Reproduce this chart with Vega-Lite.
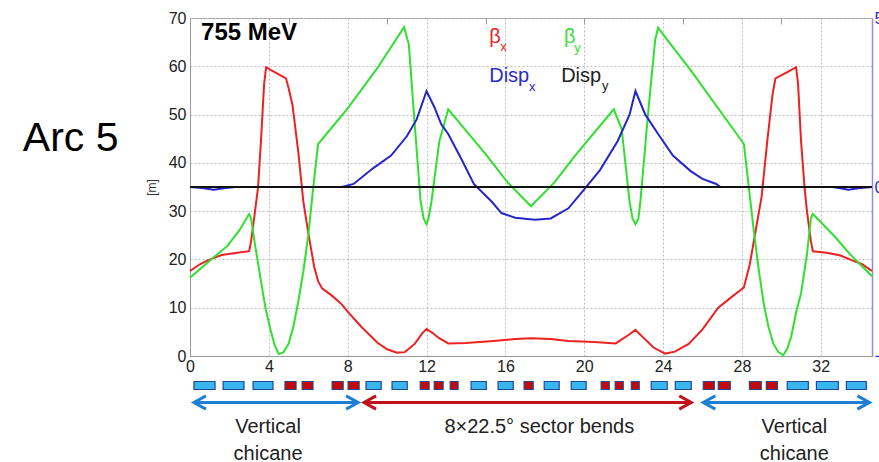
{
  "$schema": "https://vega.github.io/schema/vega-lite/v6.json",
  "background": "white",
  "padding": {"left": 22, "top": 8, "right": 0, "bottom": 0},
  "config": {
    "font": "Liberation Sans",
    "view": {"stroke": "#9a9a9a"}
  },
  "datasets": {
    "betax": [
      {"s": 0, "beta": 17.6}, {"s": 0.5, "beta": 19.0}, {"s": 0.9, "beta": 19.8}, {"s": 1.6, "beta": 20.9},
      {"s": 2.4, "beta": 21.4}, {"s": 3.0, "beta": 21.7}, {"s": 3.1, "beta": 23.8}, {"s": 3.3, "beta": 30},
      {"s": 3.45, "beta": 34.8}, {"s": 3.6, "beta": 44.5}, {"s": 3.76, "beta": 56.3}, {"s": 3.86, "beta": 59.8},
      {"s": 4.2, "beta": 59.0}, {"s": 4.87, "beta": 57.5}, {"s": 5.0, "beta": 55.5}, {"s": 5.2, "beta": 52},
      {"s": 5.5, "beta": 42}, {"s": 5.75, "beta": 32}, {"s": 6.0, "beta": 25.5}, {"s": 6.3, "beta": 18.5},
      {"s": 6.5, "beta": 15.5}, {"s": 6.7, "beta": 14.0}, {"s": 7.2, "beta": 12.5}, {"s": 7.7, "beta": 10.7},
      {"s": 8.0, "beta": 9.2}, {"s": 8.7, "beta": 6.0}, {"s": 9.5, "beta": 2.8}, {"s": 10.0, "beta": 1.4},
      {"s": 10.5, "beta": 0.7}, {"s": 10.9, "beta": 0.8}, {"s": 11.4, "beta": 2.5}, {"s": 11.8, "beta": 4.8},
      {"s": 12.0, "beta": 5.6}, {"s": 12.3, "beta": 4.8}, {"s": 12.6, "beta": 3.8}, {"s": 13.1, "beta": 2.6},
      {"s": 14.0, "beta": 2.7}, {"s": 15.4, "beta": 3.1}, {"s": 16.5, "beta": 3.5}, {"s": 17.3, "beta": 3.7},
      {"s": 18.3, "beta": 3.5}, {"s": 19.2, "beta": 3.1}, {"s": 20.5, "beta": 2.9}, {"s": 21.6, "beta": 2.6},
      {"s": 22.3, "beta": 4.5}, {"s": 22.6, "beta": 5.4}, {"s": 23.0, "beta": 3.8}, {"s": 23.5, "beta": 1.8},
      {"s": 24.1, "beta": 0.5}, {"s": 24.6, "beta": 0.9}, {"s": 25.3, "beta": 2.5}, {"s": 26.0, "beta": 5.5},
      {"s": 26.8, "beta": 10.0}, {"s": 27.5, "beta": 12.3}, {"s": 28.1, "beta": 14.2}, {"s": 28.4, "beta": 19},
      {"s": 28.7, "beta": 26}, {"s": 29.0, "beta": 33}, {"s": 29.3, "beta": 45}, {"s": 29.55, "beta": 54},
      {"s": 29.7, "beta": 57.5}, {"s": 30.4, "beta": 59.0}, {"s": 30.75, "beta": 59.8}, {"s": 30.85, "beta": 56.3},
      {"s": 31.0, "beta": 44.5}, {"s": 31.18, "beta": 34.8}, {"s": 31.3, "beta": 30}, {"s": 31.5, "beta": 23.8},
      {"s": 31.6, "beta": 21.7}, {"s": 32.3, "beta": 21.4}, {"s": 33.0, "beta": 20.8}, {"s": 33.6, "beta": 19.8},
      {"s": 34.1, "beta": 19.0}, {"s": 34.6, "beta": 17.6}
    ],
    "betay": [
      {"s": 0, "beta": 16.2}, {"s": 1.07, "beta": 20.0}, {"s": 1.9, "beta": 22.8}, {"s": 2.5, "beta": 26.0},
      {"s": 3.0, "beta": 29.4}, {"s": 3.1, "beta": 28.5}, {"s": 3.3, "beta": 23}, {"s": 3.6, "beta": 15.5},
      {"s": 3.85, "beta": 9.5}, {"s": 4.1, "beta": 5.2}, {"s": 4.3, "beta": 2.2}, {"s": 4.5, "beta": 0.4},
      {"s": 4.75, "beta": 0.8}, {"s": 5.0, "beta": 2.5}, {"s": 5.25, "beta": 6.2}, {"s": 5.5, "beta": 11.4},
      {"s": 5.75, "beta": 17.5}, {"s": 6.0, "beta": 25}, {"s": 6.25, "beta": 34.8}, {"s": 6.5, "beta": 43.9},
      {"s": 8.0, "beta": 51.3}, {"s": 9.5, "beta": 59.6}, {"s": 10.86, "beta": 68.1}, {"s": 11.1, "beta": 64.6},
      {"s": 11.4, "beta": 48}, {"s": 11.7, "beta": 32}, {"s": 11.85, "beta": 28.5}, {"s": 12.0, "beta": 27.3},
      {"s": 12.1, "beta": 28.5}, {"s": 12.25, "beta": 32}, {"s": 12.65, "beta": 44.5}, {"s": 13.1, "beta": 51.1},
      {"s": 15.0, "beta": 41.8}, {"s": 16.1, "beta": 36.0}, {"s": 17.3, "beta": 31.0}, {"s": 18.5, "beta": 36.0},
      {"s": 19.6, "beta": 41.8}, {"s": 21.5, "beta": 51.1}, {"s": 21.9, "beta": 47}, {"s": 22.3, "beta": 32},
      {"s": 22.45, "beta": 28.5}, {"s": 22.6, "beta": 27.3}, {"s": 22.75, "beta": 28.5}, {"s": 22.85, "beta": 32},
      {"s": 23.25, "beta": 50.7}, {"s": 23.6, "beta": 65.5}, {"s": 23.75, "beta": 68.0}, {"s": 24.0, "beta": 66.6},
      {"s": 25.4, "beta": 59.2}, {"s": 28.1, "beta": 43.9}, {"s": 28.35, "beta": 35}, {"s": 28.6, "beta": 26},
      {"s": 28.85, "beta": 18}, {"s": 29.1, "beta": 11}, {"s": 29.35, "beta": 6}, {"s": 29.6, "beta": 2.5},
      {"s": 29.85, "beta": 0.8}, {"s": 30.1, "beta": 0.2}, {"s": 30.3, "beta": 1.5}, {"s": 30.5, "beta": 4},
      {"s": 30.75, "beta": 9}, {"s": 31.0, "beta": 13}, {"s": 31.3, "beta": 21}, {"s": 31.5, "beta": 28.5},
      {"s": 31.6, "beta": 29.4}, {"s": 32.7, "beta": 24.8}, {"s": 33.5, "beta": 21.0}, {"s": 34.6, "beta": 16.5}
    ],
    "dispx": [
      {"s": 0, "disp": 0}, {"s": 0.6, "disp": -0.03}, {"s": 1.2, "disp": -0.08}, {"s": 1.8, "disp": -0.03},
      {"s": 2.3, "disp": 0}, {"s": 7.7, "disp": 0}, {"s": 8.3, "disp": 0.09}, {"s": 9.3, "disp": 0.56},
      {"s": 10.2, "disp": 0.93}, {"s": 11.0, "disp": 1.5}, {"s": 11.5, "disp": 2.0}, {"s": 12.0, "disp": 2.84},
      {"s": 12.4, "disp": 2.36}, {"s": 12.74, "disp": 1.86}, {"s": 13.1, "disp": 1.57}, {"s": 13.8, "disp": 0.79},
      {"s": 14.4, "disp": 0.09}, {"s": 15.3, "disp": -0.43}, {"s": 15.8, "disp": -0.77}, {"s": 16.5, "disp": -0.91},
      {"s": 17.5, "disp": -0.97}, {"s": 18.3, "disp": -0.93}, {"s": 19.2, "disp": -0.63}, {"s": 20.0, "disp": -0.07},
      {"s": 20.8, "disp": 0.5}, {"s": 21.7, "disp": 1.36}, {"s": 22.3, "disp": 2.14}, {"s": 22.6, "disp": 2.84},
      {"s": 23.1, "disp": 2.14}, {"s": 23.75, "disp": 1.57}, {"s": 24.5, "disp": 0.93}, {"s": 25.4, "disp": 0.47},
      {"s": 26.0, "disp": 0.24}, {"s": 26.7, "disp": 0.09}, {"s": 26.9, "disp": 0}, {"s": 32.6, "disp": 0},
      {"s": 33.0, "disp": -0.04}, {"s": 33.4, "disp": -0.08}, {"s": 33.9, "disp": -0.04}, {"s": 34.6, "disp": 0}
    ],
    "dispy": [
      {"s": 0, "disp": 0}, {"s": 34.6, "disp": 0}
    ],
    "magnets": [
      {"kind": "dipole", "s0": 0.20, "s1": 1.27}, {"kind": "dipole", "s0": 1.68, "s1": 2.74},
      {"kind": "dipole", "s0": 3.20, "s1": 4.21}, {"kind": "quadrupole", "s0": 4.82, "s1": 5.38},
      {"kind": "quadrupole", "s0": 5.69, "s1": 6.24}, {"kind": "quadrupole", "s0": 7.21, "s1": 7.77},
      {"kind": "quadrupole", "s0": 8.02, "s1": 8.58}, {"kind": "dipole", "s0": 8.93, "s1": 9.70},
      {"kind": "dipole", "s0": 10.25, "s1": 11.02}, {"kind": "quadrupole", "s0": 11.68, "s1": 12.13},
      {"kind": "quadrupole", "s0": 12.39, "s1": 12.84}, {"kind": "quadrupole", "s0": 13.20, "s1": 13.60},
      {"kind": "dipole", "s0": 14.26, "s1": 15.03}, {"kind": "dipole", "s0": 15.63, "s1": 16.40},
      {"kind": "quadrupole", "s0": 16.95, "s1": 17.41}, {"kind": "dipole", "s0": 17.97, "s1": 18.73},
      {"kind": "dipole", "s0": 19.34, "s1": 20.10}, {"kind": "quadrupole", "s0": 20.86, "s1": 21.27},
      {"kind": "quadrupole", "s0": 21.57, "s1": 21.98}, {"kind": "quadrupole", "s0": 22.39, "s1": 22.79},
      {"kind": "dipole", "s0": 23.40, "s1": 24.21}, {"kind": "dipole", "s0": 24.62, "s1": 25.43},
      {"kind": "quadrupole", "s0": 26.04, "s1": 26.60}, {"kind": "quadrupole", "s0": 26.80, "s1": 27.41},
      {"kind": "quadrupole", "s0": 28.38, "s1": 28.98}, {"kind": "quadrupole", "s0": 29.24, "s1": 29.80},
      {"kind": "dipole", "s0": 30.30, "s1": 31.37}, {"kind": "dipole", "s0": 31.78, "s1": 32.89},
      {"kind": "dipole", "s0": 33.30, "s1": 34.31}
    ],
    "sections": [
      {"name": "Vertical\nchicane", "zone": "chicane", "from": 0.2, "to": 8.53, "labelAt": 3.96},
      {"name": "8×22.5° sector bends", "zone": "bends", "from": 8.83, "to": 25.43, "labelAt": 17.72},
      {"name": "Vertical\nchicane", "zone": "chicane", "from": 26.04, "to": 34.47, "labelAt": 30.66}
    ],
    "annotation": [{"note": "plot"}]
  },
  "spacing": 21,
  "bounds": "flush",
  "vconcat": [
    {
      "width": 682,
      "height": 338,
      "resolve": {"scale": {"y": "independent"}, "axis": {"x": "independent"}},
      "layer": [
        {
          "data": {"name": "betax"},
          "mark": {"type": "line", "color": "#ec2222", "strokeWidth": 2},
          "encoding": {
            "x": {
              "field": "s", "type": "quantitative",
              "scale": {"domain": [0, 34.6], "nice": false, "zero": false},
              "axis": {
                "orient": "bottom", "values": [0, 4, 8, 12, 16, 20, 24, 28, 32], "title": null,
                "grid": true, "gridColor": "#bdbdbd", "gridDash": [2, 2], "ticks": false,
                "domainColor": "#9a9a9a", "labelFontSize": 16, "labelColor": "#222222",
                "labelPadding": 2, "labelFlush": false
              }
            },
            "y": {
              "field": "beta", "type": "quantitative",
              "scale": {"domain": [0, 70], "nice": false, "zero": false},
              "axis": {
                "orient": "left", "values": [0, 10, 20, 30, 40, 50, 60, 70], "title": "[m]",
                "titleFontSize": 12, "titleFontWeight": "normal", "titleColor": "#333333", "titlePadding": 10,
                "grid": true, "gridColor": "#bdbdbd", "gridDash": [2, 2], "ticks": false,
                "domainColor": "#9a9a9a", "labelFontSize": 16, "labelColor": "#222222",
                "labelPadding": 4, "labelFlush": false
              }
            }
          }
        },
        {
          "data": {"name": "betay"},
          "mark": {"type": "line", "color": "#30e030", "strokeWidth": 2},
          "encoding": {
            "x": {"field": "s", "type": "quantitative", "axis": null},
            "y": {"field": "beta", "type": "quantitative", "scale": {"domain": [0, 70], "nice": false, "zero": false}, "axis": null}
          }
        },
        {
          "data": {"name": "dispx"},
          "mark": {"type": "line", "color": "#2525cc", "strokeWidth": 2},
          "encoding": {
            "x": {
              "field": "s", "type": "quantitative",
              "axis": {
                "orient": "top", "values": [5, 10, 15, 20, 25, 30], "title": null, "labels": false,
                "grid": false, "domain": false, "ticks": true, "tickSize": -6, "tickColor": "#9a9a9a"
              }
            },
            "y": {
              "field": "disp", "type": "quantitative",
              "scale": {"domain": [-5, 5], "nice": false, "zero": false},
              "axis": {
                "orient": "right", "values": [-5, 0, 5], "title": null, "grid": false, "ticks": false,
                "domainColor": "#8c8ce6", "domainWidth": 1.5, "labelColor": "#2d2de0",
                "labelFontSize": 17, "labelPadding": 2, "labelFlush": false
              }
            }
          }
        },
        {
          "data": {"name": "dispy"},
          "mark": {"type": "line", "color": "#111111", "strokeWidth": 2},
          "encoding": {
            "x": {"field": "s", "type": "quantitative", "axis": null},
            "y": {"field": "disp", "type": "quantitative", "scale": {"domain": [-5, 5], "nice": false, "zero": false}, "axis": null}
          }
        },
        {
          "data": {"name": "annotation"},
          "mark": {"type": "text", "text": "755 MeV", "fontSize": 24, "fontWeight": "bold", "align": "left", "baseline": "alphabetic", "color": "#000000"},
          "encoding": {
            "x": {"datum": 0.56, "type": "quantitative", "axis": null},
            "y": {"datum": 65.4, "type": "quantitative", "scale": {"domain": [0, 70], "nice": false, "zero": false}, "axis": null}
          }
        },
        {
          "data": {"name": "annotation"},
          "mark": {"type": "text", "text": "Arc 5", "fontSize": 41, "align": "left", "baseline": "alphabetic", "color": "#000000"},
          "encoding": {
            "x": {"datum": -8.48, "type": "quantitative", "axis": null},
            "y": {"datum": 42.4, "type": "quantitative", "scale": {"domain": [0, 70], "nice": false, "zero": false}, "axis": null}
          }
        },
        {
          "data": {"name": "annotation"},
          "mark": {"type": "text", "text": "β", "fontSize": 20, "align": "left", "baseline": "alphabetic", "color": "#ee2222"},
          "encoding": {
            "x": {"datum": 15.18, "type": "quantitative", "axis": null},
            "y": {"datum": 64.8, "type": "quantitative", "scale": {"domain": [0, 70], "nice": false, "zero": false}, "axis": null}
          }
        },
        {
          "data": {"name": "annotation"},
          "mark": {"type": "text", "text": "x", "fontSize": 13, "align": "left", "baseline": "alphabetic", "color": "#ee2222"},
          "encoding": {
            "x": {"datum": 15.74, "type": "quantitative", "axis": null},
            "y": {"datum": 63.1, "type": "quantitative", "scale": {"domain": [0, 70], "nice": false, "zero": false}, "axis": null}
          }
        },
        {
          "data": {"name": "annotation"},
          "mark": {"type": "text", "text": "β", "fontSize": 20, "align": "left", "baseline": "alphabetic", "color": "#3cdc3c"},
          "encoding": {
            "x": {"datum": 18.98, "type": "quantitative", "axis": null},
            "y": {"datum": 64.8, "type": "quantitative", "scale": {"domain": [0, 70], "nice": false, "zero": false}, "axis": null}
          }
        },
        {
          "data": {"name": "annotation"},
          "mark": {"type": "text", "text": "y", "fontSize": 13, "align": "left", "baseline": "alphabetic", "color": "#3cdc3c"},
          "encoding": {
            "x": {"datum": 19.5, "type": "quantitative", "axis": null},
            "y": {"datum": 62.9, "type": "quantitative", "scale": {"domain": [0, 70], "nice": false, "zero": false}, "axis": null}
          }
        },
        {
          "data": {"name": "annotation"},
          "mark": {"type": "text", "text": "Disp", "fontSize": 20, "align": "left", "baseline": "alphabetic", "color": "#2a2acc"},
          "encoding": {
            "x": {"datum": 15.18, "type": "quantitative", "axis": null},
            "y": {"datum": 56.7, "type": "quantitative", "scale": {"domain": [0, 70], "nice": false, "zero": false}, "axis": null}
          }
        },
        {
          "data": {"name": "annotation"},
          "mark": {"type": "text", "text": "x", "fontSize": 13, "align": "left", "baseline": "alphabetic", "color": "#2a2acc"},
          "encoding": {
            "x": {"datum": 17.2, "type": "quantitative", "axis": null},
            "y": {"datum": 54.9, "type": "quantitative", "scale": {"domain": [0, 70], "nice": false, "zero": false}, "axis": null}
          }
        },
        {
          "data": {"name": "annotation"},
          "mark": {"type": "text", "text": "Disp", "fontSize": 20, "align": "left", "baseline": "alphabetic", "color": "#222222"},
          "encoding": {
            "x": {"datum": 18.83, "type": "quantitative", "axis": null},
            "y": {"datum": 56.7, "type": "quantitative", "scale": {"domain": [0, 70], "nice": false, "zero": false}, "axis": null}
          }
        },
        {
          "data": {"name": "annotation"},
          "mark": {"type": "text", "text": "y", "fontSize": 13, "align": "left", "baseline": "alphabetic", "color": "#222222"},
          "encoding": {
            "x": {"datum": 20.9, "type": "quantitative", "axis": null},
            "y": {"datum": 55.1, "type": "quantitative", "scale": {"domain": [0, 70], "nice": false, "zero": false}, "axis": null}
          }
        }
      ]
    },
    {
      "width": 682,
      "height": 34,
      "view": {"stroke": null},
      "encoding": {
        "y": {
          "datum": "magnets", "type": "nominal",
          "scale": {"type": "band", "domain": ["magnets", "sections"], "paddingInner": 0, "paddingOuter": 0},
          "axis": null
        }
      },
      "layer": [
        {
          "data": {"name": "magnets"},
          "mark": {"type": "bar", "height": 8, "stroke": "#22468f", "strokeWidth": 1.2},
          "encoding": {
            "x": {"field": "s0", "type": "quantitative", "scale": {"domain": [0, 34.6], "nice": false, "zero": false}, "axis": null},
            "x2": {"field": "s1"},
            "fill": {"field": "kind", "type": "nominal", "scale": {"domain": ["dipole", "quadrupole"], "range": ["#38b6f0", "#c20a0a"]}, "legend": null}
          }
        },
        {
          "data": {"name": "sections"},
          "mark": {"type": "rule", "strokeWidth": 3},
          "encoding": {
            "x": {"field": "from", "type": "quantitative", "scale": {"domain": [0, 34.6], "nice": false, "zero": false}, "axis": null},
            "x2": {"field": "to"},
            "y": {"datum": "sections", "type": "nominal"},
            "color": {"field": "zone", "type": "nominal", "scale": {"domain": ["chicane", "bends"], "range": ["#1e7fd2", "#c0121a"]}, "legend": null}
          }
        },
        {
          "data": {"name": "sections"},
          "transform": [{"fold": ["from", "to"], "as": ["end", "pos"]}],
          "mark": {"type": "point", "shape": "M-1,-0.55L0,0L-1,0.55", "size": 576, "filled": false, "strokeWidth": 3, "opacity": 1},
          "encoding": {
            "x": {"field": "pos", "type": "quantitative", "scale": {"domain": [0, 34.6], "nice": false, "zero": false}, "axis": null},
            "y": {"datum": "sections", "type": "nominal"},
            "angle": {"field": "end", "type": "nominal", "scale": {"domain": ["from", "to"], "range": [180, 0]}, "legend": null},
            "color": {"field": "zone", "type": "nominal", "scale": {"domain": ["chicane", "bends"], "range": ["#1e7fd2", "#c0121a"]}, "legend": null}
          }
        },
        {
          "data": {"name": "sections"},
          "mark": {"type": "text", "align": "center", "baseline": "top", "dy": 14, "fontSize": 20, "lineHeight": 27, "lineBreak": "\n", "color": "#222222"},
          "encoding": {
            "x": {"field": "labelAt", "type": "quantitative", "scale": {"domain": [0, 34.6], "nice": false, "zero": false}, "axis": null},
            "y": {"datum": "sections", "type": "nominal"},
            "text": {"field": "name"}
          }
        }
      ]
    }
  ]
}
